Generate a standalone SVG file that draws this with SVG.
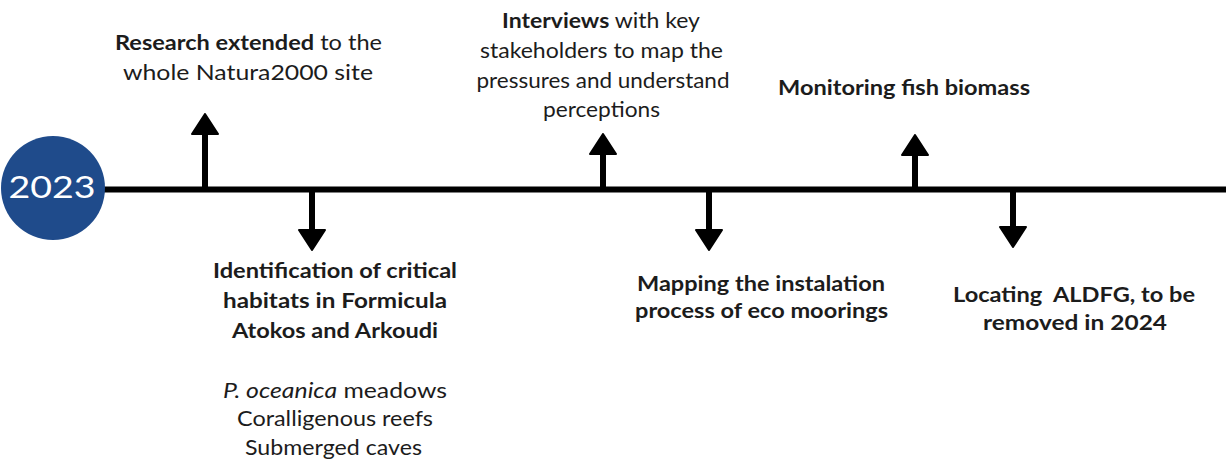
<svg xmlns="http://www.w3.org/2000/svg" width="1226" height="463" viewBox="0 0 1226 463">
  <style>
    .t { font-family: Lato, "Noto Sans", "Liberation Sans", sans-serif; font-size: 21px; fill: #1c1c1c; text-anchor: middle; }
    .b { font-weight: 700; }
    .r { font-weight: 400; }
    .i { font-style: italic; }
    .shaft { stroke: #000; stroke-width: 6; fill: none; marker-end: url(#ah); }
  </style>
  <defs>
    <marker id="ah" viewBox="0 0 22 30" refX="2" refY="15" markerWidth="22" markerHeight="30" orient="auto" markerUnits="userSpaceOnUse">
      <path d="M1,2 L21,15 L1,28 Z" fill="#000" stroke="#000" stroke-width="2" stroke-linejoin="round"/>
    </marker>
  </defs>
  <rect width="1226" height="463" fill="#ffffff"/>

  <g id="connectors">
    <line x1="100" y1="189.5" x2="1226" y2="189.5" stroke="#000" stroke-width="6"/>
    <line class="shaft" x1="205" y1="189" x2="205" y2="133"/>
    <line class="shaft" x1="312" y1="190" x2="312" y2="231"/>
    <line class="shaft" x1="603" y1="189" x2="603" y2="153"/>
    <line class="shaft" x1="709" y1="190" x2="709" y2="231"/>
    <line class="shaft" x1="915" y1="189" x2="915" y2="154"/>
    <line class="shaft" x1="1013" y1="190" x2="1013" y2="228"/>
  </g>

  <g id="year">
    <circle cx="53" cy="188" r="52" fill="#1f4b8b"/>
    <text x="52" y="198" font-family="Lato, 'Noto Sans', sans-serif" font-size="31" font-weight="400" fill="#ffffff" text-anchor="middle" textLength="87" lengthAdjust="spacingAndGlyphs">2023</text>
  </g>

  <g id="research-extended">
    <text class="t" x="248.5" y="50" textLength="267" lengthAdjust="spacingAndGlyphs"><tspan class="b">Research extended</tspan><tspan class="r"> to the</tspan></text>
    <text class="t r" x="248" y="80" textLength="250" lengthAdjust="spacingAndGlyphs">whole Natura2000 site</text>
  </g>

  <g id="critical-habitats">
    <text class="t b" x="335" y="278" textLength="244" lengthAdjust="spacingAndGlyphs">Identification of critical</text>
    <text class="t b" x="335" y="308" textLength="224" lengthAdjust="spacingAndGlyphs">habitats in Formicula</text>
    <text class="t b" x="335" y="338" textLength="206" lengthAdjust="spacingAndGlyphs">Atokos and Arkoudi</text>
    <text class="t r" x="335" y="398" textLength="224" lengthAdjust="spacingAndGlyphs"><tspan class="i">P. oceanica</tspan> meadows</text>
    <text class="t r" x="335" y="426" textLength="196" lengthAdjust="spacingAndGlyphs">Coralligenous reefs</text>
    <text class="t r" x="333.5" y="455" textLength="177" lengthAdjust="spacingAndGlyphs">Submerged caves</text>
  </g>

  <g id="interviews">
    <text class="t" x="601" y="28" textLength="198" lengthAdjust="spacingAndGlyphs"><tspan class="b">Interviews</tspan><tspan class="r"> with key</tspan></text>
    <text class="t r" x="601.5" y="58" textLength="243" lengthAdjust="spacingAndGlyphs">stakeholders to map the</text>
    <text class="t r" x="603" y="88" textLength="253" lengthAdjust="spacingAndGlyphs">pressures and understand</text>
    <text class="t r" x="601.5" y="117" textLength="117" lengthAdjust="spacingAndGlyphs">perceptions</text>
  </g>

  <g id="eco-moorings">
    <text class="t b" x="761" y="291" textLength="248" lengthAdjust="spacingAndGlyphs">Mapping the instalation</text>
    <text class="t b" x="761.5" y="318" textLength="253" lengthAdjust="spacingAndGlyphs">process of eco moorings</text>
  </g>

  <g id="fish-biomass">
    <text class="t b" x="904" y="95" textLength="252" lengthAdjust="spacingAndGlyphs">Monitoring fish biomass</text>
  </g>

  <g id="aldfg">
    <text class="t b" x="1074" y="302" textLength="242" lengthAdjust="spacingAndGlyphs" xml:space="preserve">Locating  ALDFG, to be</text>
    <text class="t b" x="1075" y="330" textLength="184" lengthAdjust="spacingAndGlyphs">removed in 2024</text>
  </g>
</svg>
